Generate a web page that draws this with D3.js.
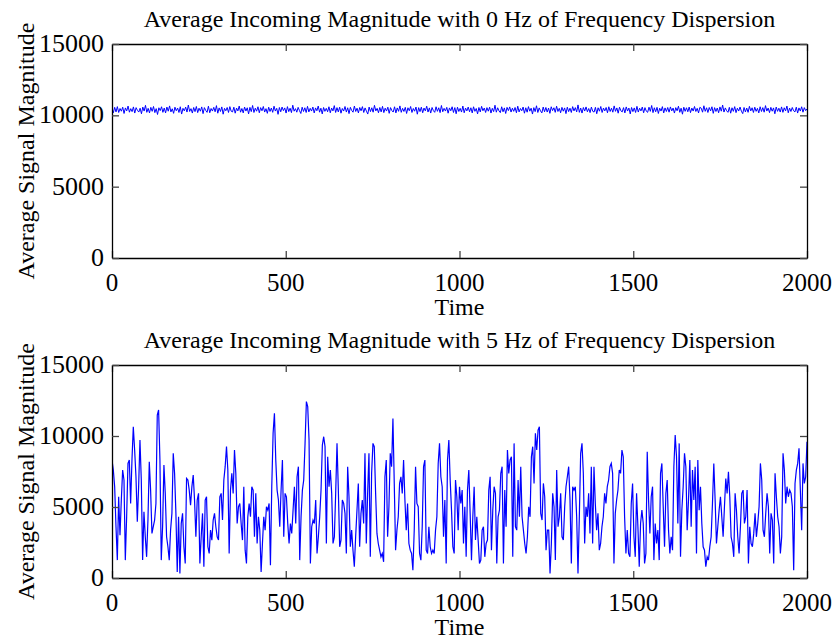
<!DOCTYPE html>
<html>
<head>
<meta charset="utf-8">
<script src="https://cdn.jsdelivr.net/npm/d3@7"></script>
<style>
  body { margin: 0; background: #fff; }
  text { font-family: 'Liberation Serif', 'Times New Roman', serif; fill: #000; }
</style>
</head>
<body>
<div id="chart"></div>
<script>
// Two stacked MATLAB style plots

// Data
let xTicks = [0, 500, 1000, 1500, 2000]
let yTicks = [0, 5000, 10000, 15000]
let titles = [
  'Average Incoming Magnitude with 0 Hz of Frequency Dispersion',
  'Average Incoming Magnitude with 5 Hz of Frequency Dispersion'
]
let xLabel = 'Time'
let yLabel = 'Average Signal Magnitude'

// 0 Hz: flat, noisy band just above 10000
let magnitude0Hz = [
  10450,10180,10560,10240,10610,10200,10480,10290,10570,10130,
  10520,10310,10650,10220,10470,10260,10590,10160,10540,10350,
  10230,10500,10110,10580,10300,10700,10210,10490,10170,10560,
  10280,10620,10190,10470,10060,10530,10330,10600,10210,10510,
  10170,10580,10290,10660,10240,10460,10140,10570,10320,10510,
  10200,10600,10090,10490,10310,10580,10230,10720,10270,10470,
  10160,10550,10260,10620,10190,10500,10290,10590,10120,10540,
  10340,10210,10640,10180,10480,10300,10560,10250,10680,10150,
  10520,10270,10590,10080,10490,10320,10550,10200,10610,10290,
  10240,10570,10150,10510,10310,10650,10220,10480,10170,10580,
  10300,10530,10100,10560,10260,10690,10200,10500,10290,10600,
  10180,10540,10320,10620,10230,10470,10140,10570,10270,10510,
  10210,10640,10300,10490,10070,10550,10250,10580,10330,10520,
  10160,10610,10260,10500,10190,10710,10290,10470,10220,10560,
  10330,10130,10570,10270,10530,10200,10630,10240,10490,10300,
  10580,10170,10520,10320,10650,10220,10500,10100,10550,10280,
  10490,10250,10600,10180,10510,10310,10680,10200,10540,10240,
  10570,10150,10480,10300,10620,10230,10530,10120,10560,10340,
  10220,10650,10270,10500,10170,10550,10320,10610,10200,10520,
  10290,10090,10580,10260,10530,10220,10700,10310,10490,10180,
  10550,10240,10630,10190,10500,10300,10570,10140,10540,10330,
  10230,10600,10170,10520,10280,10660,10210,10490,10270,10560,
  10130,10530,10320,10620,10200,10480,10290,10580,10080,10540,
  10260,10570,10180,10510,10310,10640,10230,10520,10160,10550,
  10330,10210,10600,10280,10530,10190,10690,10250,10490,10300,
  10560,10150,10520,10320,10600,10200,10540,10110,10570,10270,
  10490,10230,10650,10180,10510,10310,10580,10250,10530,10170,
  10600,10280,10480,10100,10550,10240,10630,10320,10510,10200,
  10540,10290,10570,10160,10490,10260,10710,10220,10530,10310,
  10190,10600,10250,10520,10130,10560,10330,10590,10230,10500,
  10280,10550,10180,10640,10240,10480,10320,10580,10150,10530,
  10220,10610,10290,10500,10090,10540,10260,10670,10200,10520,
  10310,10170,10580,10250,10550,10230,10510,10140,10600,10330,
  10530,10210,10640,10270,10490,10180,10560,10290,10520,10120,
  10570,10260,10500,10200,10610,10310,10540,10240,10730,10210,
  10510,10160,10550,10300,10590,10250,10480,10190,10580,10280,
  10230,10560,10110,10530,10290,10620,10200,10510,10310,10550,
  10180,10600,10270,10500,10220,10660,10280,10520,10150,10570,
  10320,10240,10540,10170,10590,10300,10510,10100,10550,10260,
  10520,10200,10630,10230,10500,10310,10580,10180,10540,10290,
  10210,10570,10280,10690,10190,10530,10250,10560,10130,10500,
  10300,10610,10170,10520,10270,10550,10220,10590,10310,10510,
  10160,10540,10320,10640,10210,10500,10080,10570,10280,10530,
  10250,10580,10190,10510,10300,10620,10270,10490,10170,10560,
  10500,10220,10670,10280,10530,10200,10550,10310,10600,10140,
  10540,10270,10510,10180,10590,10290,10720,10230,10520,10320,
  10210,10560,10150,10530,10280,10610,10190,10500,10300,10580,
  10290,10120,10550,10240,10510,10210,10630,10310,10530,10200,
  10570,10280,10490,10170,10600,10270,10540,10220,10680,10300,
  10510,10190,10560,10290,10520,10110,10580,10280,10500,10230,
  10590,10210,10530,10310,10650,10180,10510,10270,10550,10320,
  10240,10570,10160,10520,10300,10600,10220,10540,10330,10450
]

// 5 Hz: strongly fluctuating between ~300 and ~12400
let magnitude5Hz = [
  // 0 - 500
  8310,7600,6430,3610,1260,5720,3020,5490,7600,6900,
  1260,4310,8070,8310,5250,8310,10650,9010,7130,3960,
  6430,9710,6900,1260,4660,2900,1490,4080,8190,6190,
  3140,3610,4080,5250,11480,11830,8310,1260,3610,7950,
  5960,2900,2200,1260,3370,4550,8780,7370,4550,430,
  4310,320,3840,4550,2200,1020,7010,6900,6190,5130,
  6430,7250,5490,2900,5490,5960,1020,2900,4550,790,
  5490,5720,2200,1730,3370,2670,4080,4550,3610,2900,
  2670,5720,5960,4080,6900,7840,9250,7600,1730,6190,
  7370,5960,9010,7370,3840,5020,5250,3840,2670,6430,
  1960,1020,4310,5250,4310,6430,6190,2900,5960,2430,
  4310,3370,430,2430,4310,3370,5020,4780,5250,900,
  6430,10190,11600,8310,6190,5490,3610,6190,8310,2900,
  5960,5720,
  // 500 - 1000
  3840,2430,3840,3140,4780,6430,3840,7130,7840,1260,
  4310,6190,6900,9480,12420,12070,9710,1020,3610,4080,
  3840,5490,1730,2900,4310,6190,9360,9950,9250,2430,
  8540,6430,7600,5960,2430,2900,5960,9480,6190,2200,
  2670,5490,5250,4550,1730,7840,5720,2200,3370,1960,
  790,2900,4780,6660,2200,4550,5490,3840,8780,2430,
  5960,8780,1490,7370,9480,9250,5960,3140,2430,1960,
  1490,1730,1140,7130,8310,2900,5020,8780,7840,11240,
  6660,1960,3370,4310,6660,7130,5960,8310,5490,3370,
  5250,2430,1960,1730,550,3370,7840,5250,5020,1730,
  1260,3610,7840,8310,1960,1730,3610,2200,1730,1960,
  1730,3370,4310,8070,9480,7130,6430,2900,5490,1020,
  8310,9710,6900,4780,2200,1730,6900,5720,3370,6430,
  5250,6190,
  // 1000 - 1500
  2430,5020,1490,6190,7600,4550,1260,4310,6430,2670,
  4310,2670,1020,1260,3370,3610,1490,2430,2670,6190,
  7130,1960,4780,6430,5960,1020,4310,4780,7370,7840,
  1020,6190,3610,9010,7370,8310,8540,1490,9480,3610,
  3370,6900,4310,7840,4310,3370,2430,1730,2900,5020,
  4310,8540,9250,6660,10190,9010,10420,10650,4550,4080,
  6660,5720,1960,3370,3370,320,2430,5960,5020,1260,
  7600,3610,4310,5960,2900,2670,5020,6430,7130,7840,
  5490,1020,6430,6190,6430,4310,320,4310,8780,9480,
  7370,2430,5020,4310,5960,3140,7840,2430,7840,5250,
  3370,4550,1960,2430,3610,4310,5960,5250,6430,6900,
  7840,8070,7370,1020,4550,5490,6190,7600,7370,9010,
  8540,4310,1730,3370,1730,1490,5250,6660,2900,1490,
  5960,
  // 1500 - 2000
  3610,790,3840,4780,3840,1020,1730,8890,5490,3140,
  5720,6430,1260,3840,2430,3370,1260,7370,8070,5020,
  2200,5960,6900,3370,1730,2900,1960,7840,10070,8540,
  3840,9480,1490,4780,6430,8780,7840,3370,5490,8310,
  3610,7600,5490,7840,1730,8310,4780,6430,3840,2200,
  1960,790,1490,1260,2200,2900,5250,8070,5490,2430,
  3610,4780,5720,4310,2900,5020,7010,5960,7480,5720,
  2900,2430,1490,5960,4780,2900,1730,3610,5960,6190,
  3840,4310,6190,1020,3610,2430,2200,3140,4550,2900,
  3840,5020,8070,6900,3370,2900,4550,5960,5020,1730,
  4550,4080,1020,7370,5720,4310,3610,1730,2900,8780,
  7600,5250,6430,5720,6190,5960,5020,550,6660,7600,
  8070,9130,6190,3370,8070,6660,7130,9600
]

// Layout
let chart = {
  width: 836,
  height: 642,
  left: 112,
  right: 807,
  panels: [
    {top: 44, bottom: 258, series: magnitude0Hz, title: titles[0], stroke: 1},
    {top: 365, bottom: 578, series: magnitude5Hz, title: titles[1], stroke: 1.2}
  ],
  lineColor: '#0000ff',
  tickLength: 7,
  titleSize: 24,
  tickSize: 25,
}

let svg = d3.select('#chart')
  .append('svg')
  .attr('width', chart.width)
  .attr('height', chart.height)

let x = d3.scaleLinear().domain([0, 2000]).range([chart.left, chart.right])

chart.panels.forEach((panel, i) => {
  let y = d3.scaleLinear().domain([0, 15000]).range([panel.bottom, panel.top])
  let g = svg.append('g')

  // clip so the trace never crosses the frame
  g.append('clipPath')
    .attr('id', 'clip' + i)
    .append('rect')
    .attr('x', chart.left)
    .attr('y', panel.top)
    .attr('width', chart.right - chart.left)
    .attr('height', panel.bottom - panel.top)

  let step = 2000 / (panel.series.length - 1)
  let line = d3.line()
    .x((d, k) => x(k * step))
    .y((d) => y(d))

  g.append('path')
    .datum(panel.series)
    .attr('clip-path', `url(#clip${i})`)
    .attr('fill', 'none')
    .attr('stroke', chart.lineColor)
    .attr('stroke-width', panel.stroke)
    .attr('d', line)

  // inward ticks on all four sides, MATLAB box
  let axes = [
    {axis: d3.axisBottom(x), at: `translate(0,${panel.bottom})`},
    {axis: d3.axisTop(x), at: `translate(0,${panel.top})`},
    {axis: d3.axisLeft(y), at: `translate(${chart.left},0)`},
    {axis: d3.axisRight(y), at: `translate(${chart.right},0)`}
  ]
  axes.forEach((a, k) => {
    let ticks = k < 2 ? xTicks : yTicks
    let ag = g.append('g')
      .attr('transform', a.at)
      .call(a.axis.tickValues(ticks).tickSizeInner(-chart.tickLength).tickSizeOuter(0).tickFormat(''))
    ag.select('.domain').attr('stroke', '#000').attr('stroke-width', 1.3)
    ag.selectAll('.tick line').attr('stroke', '#444').attr('stroke-width', 1.3)
  })

  // tick labels
  g.selectAll('.xlab')
    .data(xTicks)
    .enter()
    .append('text')
    .attr('x', (d) => x(d))
    .attr('y', panel.bottom + 33)
    .attr('text-anchor', 'middle')
    .style('font-size', chart.tickSize + 'px')
    .text((d) => d)

  g.selectAll('.ylab')
    .data(yTicks)
    .enter()
    .append('text')
    .attr('x', chart.left - 8)
    .attr('y', (d) => y(d) + 8)
    .attr('text-anchor', 'end')
    .style('font-size', (chart.tickSize + 1) + 'px')
    .text((d) => d)

  // titles and axis labels
  g.append('text')
    .attr('x', (chart.left + chart.right) / 2)
    .attr('y', panel.top - 17)
    .attr('text-anchor', 'middle')
    .style('font-size', chart.titleSize + 'px')
    .text(panel.title)

  g.append('text')
    .attr('x', (chart.left + chart.right) / 2)
    .attr('y', panel.bottom + 57)
    .attr('text-anchor', 'middle')
    .style('font-size', chart.titleSize + 'px')
    .text(xLabel)

  g.append('text')
    .attr('transform', `translate(34,${(panel.top + panel.bottom) / 2}) rotate(-90)`)
    .attr('text-anchor', 'middle')
    .style('font-size', chart.titleSize + 'px')
    .text(yLabel)
})
</script>
</body>
</html>
